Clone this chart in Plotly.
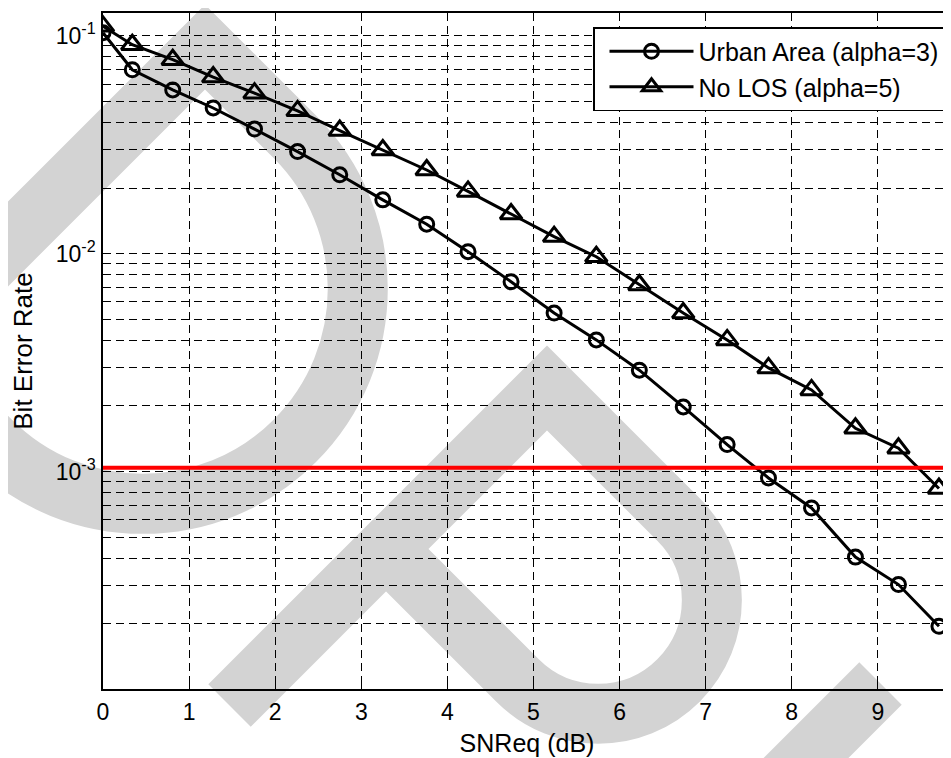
import math
import plotly.graph_objects as go

# ---------------- data ----------------
snr_db = [0, 0.34, 0.81, 1.28, 1.76, 2.26, 2.75, 3.25, 3.76, 4.24, 4.74,
          5.24, 5.73, 6.23, 6.74, 7.25, 7.73, 8.23, 8.74, 9.24, 9.71]
ber_urban = [0.1032, 0.0698, 0.0564, 0.0466, 0.0373, 0.0294, 0.0230, 0.01765,
             0.01365, 0.01021, 0.00743, 0.00534, 0.00402, 0.00292, 0.00198,
             0.00133, 0.000935, 0.000681, 0.000405, 0.000303, 0.000195]
ber_nolos = [0.1104, 0.0909, 0.0776, 0.0646, 0.0545, 0.0452, 0.0367, 0.0299,
             0.0242, 0.0193, 0.0152, 0.01197, 0.00968, 0.00718, 0.00534,
             0.00402, 0.00299, 0.00237, 0.00158, 0.00128, 0.000836]
threshold_x = [0, 10]
threshold_y = [0.00104, 0.00104]
series_names = ["Urban Area (alpha=3)", "No LOS (alpha=5)"]
x_ticks = list(range(0, 10))

# y ticks: every 1..9 x decade (for the minor grid), label only decades
y_tickvals, y_ticktext = [], []
for d in [-4, -3, -2, -1]:
    for m in range(1, 10):
        y_tickvals.append(m * 10.0 ** d)
        y_ticktext.append("10<sup>%d</sup>" % d if m == 1 else "")

# ---------------- layout geometry ----------------
# the page body has an 8px margin, so the figure is laid out 8px up/left
OFF = 8
W, H = 951 - OFF, 758 - OFF
PLOT_L, PLOT_R, PLOT_T, PLOT_B = 103, 951, 13, 689   # in screenshot pixels
L, T = PLOT_L - OFF, PLOT_T - OFF
R = W - (PLOT_R - OFF)
B = H - (PLOT_B - OFF)
PW, PH = PLOT_R - PLOT_L, PLOT_B - PLOT_T

def to_paper(p):
    x, y = p
    return ((x - PLOT_L) / PW, (PLOT_B - y) / PH)

# ---------------- watermark (light gray rotated glyphs) ----------------
S2 = math.sqrt(0.5)
U = (S2, -S2)   # up-right
V = (S2, S2)    # down-right

def add(p, a, vec):
    return (p[0] + a * vec[0], p[1] + a * vec[1])

def glyph_path(corner, bar_len, rad, stem_len):
    k = 0.5523 * rad
    stem0 = add(corner, -stem_len, U)
    p0 = add(corner, bar_len, V)
    center = add(add(corner, -rad, U), bar_len, V)
    m = add(center, rad, V)
    e = add(center, -rad, U)
    back = add(corner, -2 * rad, U)
    c1 = add(p0, k, V); c2 = add(m, k, U)
    c3 = add(m, -k, U); c4 = add(e, k, V)
    pts = [stem0, corner, p0, c1, c2, m, c3, c4, e, back]
    pp = [to_paper(p) for p in pts]
    f = lambda q: "%.5f,%.5f" % q
    return ("M" + f(pp[0]) + " L" + f(pp[1]) + " L" + f(pp[2]) +
            " C" + f(pp[3]) + " " + f(pp[4]) + " " + f(pp[5]) +
            " C" + f(pp[6]) + " " + f(pp[7]) + " " + f(pp[8]) +
            " L" + f(pp[9]))

wm_color = "#d3d3d3"
wm_width = 60
shapes = []
shapes.append(dict(type="path", xref="paper", yref="paper", layer="below",
                   path=glyph_path((205, 47), 127, 215, 700),
                   line=dict(color=wm_color, width=wm_width)))
shapes.append(dict(type="path", xref="paper", yref="paper", layer="below",
                   path=glyph_path((547, 388), 186, 113.8, 449),
                   line=dict(color=wm_color, width=wm_width)))
c_a = to_paper((880.5, 683.5))
c_b = to_paper(add((880.5, 683.5), -250, U))
shapes.append(dict(type="path", xref="paper", yref="paper", layer="below",
                   path="M%.5f,%.5f L%.5f,%.5f" % (c_a + c_b),
                   line=dict(color=wm_color, width=wm_width)))

# ---------------- figure ----------------
fig = go.Figure()
fig.add_trace(go.Scatter(
    x=snr_db, y=ber_urban, name=series_names[0], mode="lines+markers",
    line=dict(color="black", width=3),
    marker=dict(symbol="circle-open", size=14, color="black",
                line=dict(color="black", width=3))))
fig.add_trace(go.Scatter(
    x=snr_db, y=ber_nolos, name=series_names[1], mode="lines+markers",
    line=dict(color="black", width=3),
    marker=dict(symbol="triangle-up-open", size=19, color="black",
                line=dict(color="black", width=3))))
fig.add_trace(go.Scatter(
    x=threshold_x, y=threshold_y, mode="lines", showlegend=False,
    line=dict(color="#ff0000", width=4)))

font_family = "Liberation Sans, Arial, Helvetica, sans-serif"
grid_dash = "8px,5px"
leg_pos = to_paper((593, 27))

fig.update_layout(
    width=W, height=H,
    margin=dict(l=L, r=R, t=T, b=B, pad=0),
    paper_bgcolor="white",
    plot_bgcolor="rgba(0,0,0,0)",
    font=dict(family=font_family, size=23, color="black"),
    shapes=shapes,
    showlegend=True,
    legend=dict(
        x=leg_pos[0], y=leg_pos[1],
        xanchor="left", yanchor="top",
        bgcolor="white", bordercolor="black", borderwidth=1.5,
        font=dict(family=font_family, size=25, color="black"),
        itemwidth=84, tracegroupgap=0, indentation=10,
        entrywidth=380, entrywidthmode="pixels",
    ),
    xaxis=dict(
        range=[0, 9.85], tickvals=x_ticks, ticktext=[str(v) for v in x_ticks],
        showline=True, linecolor="black", linewidth=1.5, mirror="ticks",
        ticks="inside", ticklen=7, tickcolor="black",
        showgrid=True, gridcolor="black", gridwidth=1, griddash=grid_dash,
        zeroline=False, ticklabelstandoff=2, automargin=False,
        tickfont=dict(size=23),
        title=dict(text="SNReq (dB)", font=dict(size=25), standoff=10),
    ),
    yaxis=dict(
        type="log", range=[-3.9977, -0.8958],
        tickvals=y_tickvals, ticktext=y_ticktext,
        showline=True, linecolor="black", linewidth=1.5, mirror=False,
        ticks="inside", ticklen=7, tickcolor="black",
        showgrid=True, gridcolor="black", gridwidth=1, griddash=grid_dash,
        zeroline=False, ticklabelstandoff=1, automargin=False,
        tickfont=dict(size=23),
        title=dict(text="Bit Error Rate", font=dict(size=26), standoff=17),
    ),
)

fig.write_html("out.html")
